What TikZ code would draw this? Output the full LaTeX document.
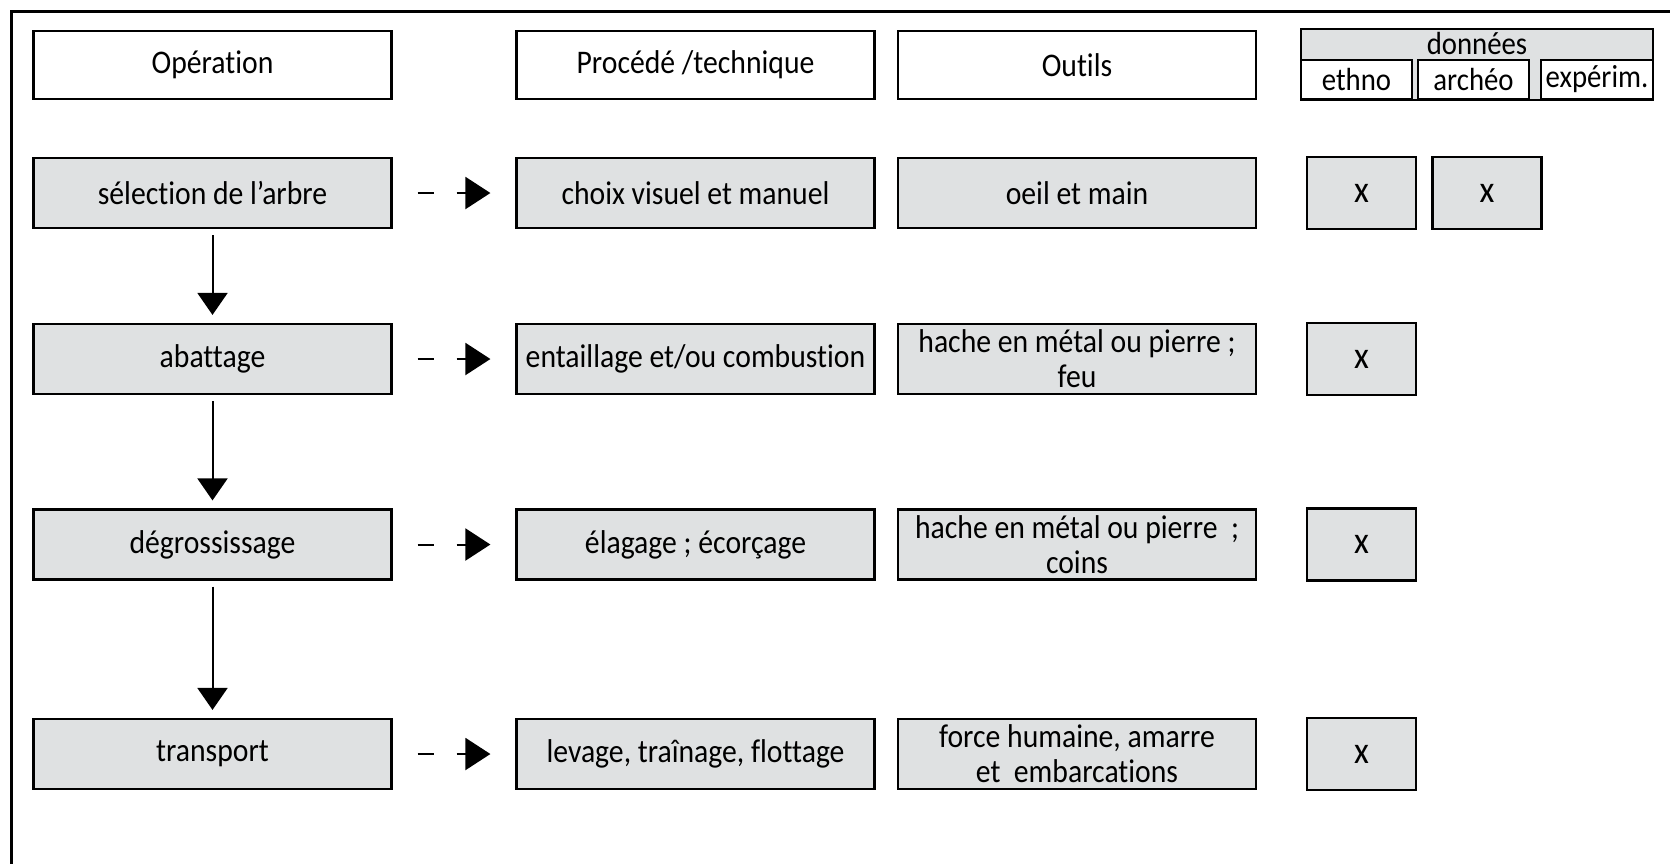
\documentclass[tikz,border=0pt]{standalone}
\usepackage{fontspec}
\setmainfont{Carlito}[FakeStretch=0.9, Ligatures=NoCommon]
\usepackage{tikz}
\usetikzlibrary{positioning,arrows.meta,calc}
\definecolor{boxgray}{RGB}{223,225,226}

\begin{document}
\begin{tikzpicture}[
  x=0.5pt, y=-0.5pt,
  hdrbox/.style={draw=black, line width=1.1pt, fill=white, minimum width=179pt,
                 minimum height=34pt, inner sep=0pt, font=\fontsize{16.5}{17}\selectfont},
  opbox/.style={draw=black, line width=1.1pt, fill=boxgray, minimum width=179pt,
                minimum height=35pt, inner sep=0pt, align=center,
                font=\fontsize{16.5}{17.5}\selectfont},
  xbox/.style={opbox, minimum width=54.5pt, minimum height=36pt,
               font=\fontsize{19}{20}\selectfont},
  cellbox/.style={draw=black, line width=1.1pt, fill=white, minimum width=55.5pt,
                  minimum height=19.5pt, inner sep=0pt, font=\fontsize{16}{16}\selectfont},
  downarr/.style={-{Triangle[length=11pt, width=15pt]}, line width=1pt,
                  shorten <=3pt, shorten >=4pt},
  dasharr/.style={-{Triangle[length=12.5pt, width=16pt]}, line width=1pt,
                  dash pattern=on 8pt off 11.5pt on 40pt,
                  shorten <=12.5pt, shorten >=12.5pt},
]
\useasboundingbox (0,0) rectangle (1670,864);

% ---- frame (top and left) ----
\draw[line width=1.5pt] (1670,11) -- (11,11) -- (11,864);

% ---- column headers ----
\node[hdrbox] (hop) at (212.5,65) {Opération};
\node[hdrbox] (hproc) at (695.5,65) {Procédé /technique};
\node[hdrbox] (htool) at (1077,65) {Outils};

% ---- données block ----
\node[draw=black, line width=1.1pt, fill=boxgray, minimum width=176pt,
      minimum height=35.5pt, inner sep=0pt] (don) at (1477,64.5) {};
\node[font=\fontsize{16}{16}\selectfont, inner sep=0pt] (donlab) at (1477,43) {données};
\node[cellbox] (ethno) at (1356.5,79.5) {ethno};
\node[cellbox] (archeo) at (1473.5,79.5) {archéo};
\node[cellbox, minimum width=56pt] (experim) at (1597,79.5) {expérim.};

% ---- rows: operation, procédé, outils ----
\foreach \i/\y/\op/\proc/\tool in {
    1/193/{sélection de l’arbre}/{choix visuel et manuel}/{oeil et main},
    2/359/{abattage}/{entaillage et/ou combustion}/{hache en métal ou pierre ;\\feu},
    3/544.5/{dégrossissage}/{élagage ; écorçage}/{hache en métal ou pierre~ ;\\coins},
    4/754/{transport}/{levage, traînage, flottage}/{force humaine, amarre\\et~ embarcations}} {
  \node[opbox] (op\i) at (212.5,\y) {\op};
  \node[opbox] (proc\i) at (695.5,\y) {\proc};
  \node[opbox] (tool\i) at (1077,\y) {\tool};
  \node[xbox] (xa\i) at (1361.5,\y) {\raisebox{-2pt}{x}};
  \draw[dasharr] (op\i) -- (proc\i);
}
\node[xbox] (xb1) at (1487,193) {\raisebox{-2pt}{x}};

% ---- sequence of operations ----
\foreach \i/\j in {1/2,2/3,3/4}
  \draw[downarr] (op\i) -- (op\j);

\end{tikzpicture}
\end{document}
